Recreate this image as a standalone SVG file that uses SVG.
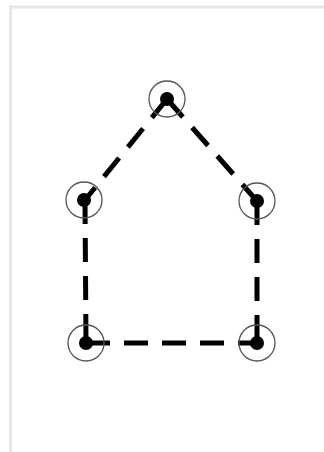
<svg xmlns="http://www.w3.org/2000/svg" width="324" height="452" viewBox="0 0 324 452">
<style>
.frame{fill:none;stroke:#e6e6e6;stroke-width:3}
.edge{fill:none;stroke:#000;stroke-width:5;stroke-dasharray:24 14}
.ring{fill:none;stroke:#555;stroke-width:1.3}
.dot{fill:#000}
</style>
<rect width="324" height="452" fill="#fff"/>
<path class="frame" d="M10.5 460 V7 H330"/>
<g id="connectors">
<line class="edge" x1="167" y1="99" x2="85" y2="200"/>
<line class="edge" x1="167" y1="99" x2="257" y2="201"/>
<line class="edge" x1="85" y1="200" x2="86" y2="343"/>
<line class="edge" x1="257" y1="201" x2="257" y2="343"/>
<line class="edge" x1="86" y1="343" x2="257" y2="343"/>
</g>
<g id="node-top"><circle class="ring" cx="167" cy="99" r="18"/><circle class="dot" cx="167" cy="99" r="7"/></g>
<g id="node-left"><circle class="ring" cx="84" cy="200" r="18"/><circle class="dot" cx="84" cy="200" r="7"/></g>
<g id="node-right"><circle class="ring" cx="257" cy="201" r="18"/><circle class="dot" cx="257" cy="201" r="7"/></g>
<g id="node-bottom-left"><circle class="ring" cx="86" cy="343" r="18"/><circle class="dot" cx="86" cy="343" r="7"/></g>
<g id="node-bottom-right"><circle class="ring" cx="257" cy="343" r="18"/><circle class="dot" cx="257" cy="343" r="7"/></g>
</svg>
